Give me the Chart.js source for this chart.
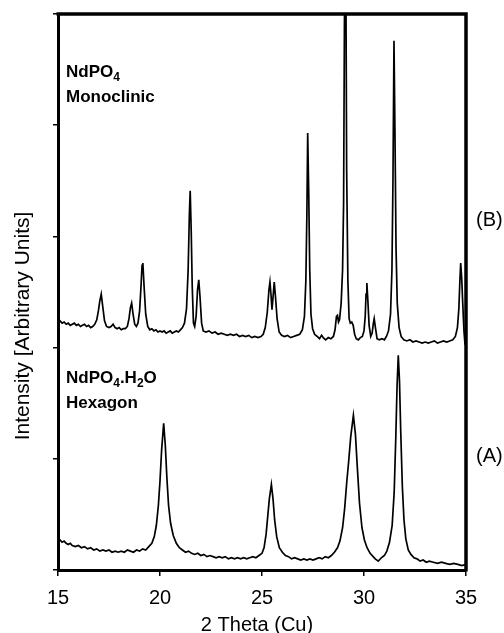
<!DOCTYPE html>
<html>
<head>
    <meta charset="UTF-8">
    <title>NdPO4 XRD patterns</title>
    <script src="https://cdn.jsdelivr.net/npm/chart.js@4"></script>
    <style>
        html, body { margin: 0; padding: 0; background: #fff; }
        #wrap { width: 504px; height: 633px; position: relative; }
    </style>
</head>
<body>
<div id="wrap"><canvas id="xrdChart"></canvas></div>

<script>
    // (A) NdPO4.H2O hexagonal - 2 theta (deg) and intensity (arbitrary, offset 0)
    var thetaA = [15.00, 15.10, 15.20, 15.30, 15.40, 15.50, 15.60, 15.70, 15.85, 16.00,
        16.15, 16.30, 16.45, 16.60, 16.75, 16.90, 17.05, 17.20, 17.35, 17.50,
        17.65, 17.80, 17.95, 18.10, 18.25, 18.40, 18.55, 18.70, 18.85, 19.00,
        19.15, 19.30, 19.45, 19.60, 19.72, 19.82, 19.92, 20.00, 20.08, 20.18,
        20.26, 20.34, 20.42, 20.52, 20.65, 20.80, 20.95, 21.10, 21.25, 21.40,
        21.55, 21.70, 21.85, 22.00, 22.15, 22.30, 22.45, 22.60, 22.75, 22.90,
        23.05, 23.20, 23.35, 23.50, 23.65, 23.80, 23.95, 24.10, 24.25, 24.40,
        24.55, 24.70, 24.85, 25.00, 25.10, 25.20, 25.28, 25.36, 25.46, 25.54,
        25.62, 25.72, 25.85, 26.00, 26.15, 26.30, 26.45, 26.60, 26.75, 26.90,
        27.05, 27.20, 27.35, 27.50, 27.65, 27.80, 27.95, 28.10, 28.25, 28.40,
        28.55, 28.70, 28.82, 28.95, 29.05, 29.15, 29.25, 29.35, 29.48, 29.58,
        29.68, 29.78, 29.90, 30.02, 30.15, 30.30, 30.45, 30.55, 30.70, 30.85,
        31.00, 31.12, 31.25, 31.38, 31.48, 31.56, 31.62, 31.68, 31.74, 31.80,
        31.88, 31.96, 32.05, 32.17, 32.30, 32.45, 32.60, 32.75, 32.90, 33.05,
        33.20, 33.40, 33.60, 33.80, 34.00, 34.20, 34.40, 34.60, 34.80, 35.00];
    var countsA = [0.28, 0.27, 0.25, 0.26, 0.24, 0.23, 0.24, 0.22, 0.21, 0.22,
        0.20, 0.21, 0.19, 0.20, 0.18, 0.19, 0.17, 0.18, 0.17, 0.18,
        0.16, 0.17, 0.16, 0.17, 0.16, 0.18, 0.17, 0.16, 0.18, 0.17,
        0.19, 0.18, 0.21, 0.24, 0.30, 0.40, 0.58, 0.80, 1.08, 1.32,
        1.12, 0.82, 0.58, 0.42, 0.31, 0.24, 0.20, 0.18, 0.16, 0.17,
        0.15, 0.14, 0.15, 0.13, 0.14, 0.12, 0.13, 0.12, 0.11, 0.12,
        0.11, 0.12, 0.10, 0.11, 0.10, 0.11, 0.10, 0.11, 0.10, 0.11,
        0.12, 0.11, 0.13, 0.15, 0.20, 0.32, 0.48, 0.64, 0.77, 0.64,
        0.45, 0.30, 0.20, 0.16, 0.13, 0.12, 0.10, 0.11, 0.10, 0.09,
        0.10, 0.09, 0.10, 0.09, 0.10, 0.11, 0.10, 0.12, 0.11, 0.13,
        0.16, 0.20, 0.26, 0.38, 0.55, 0.78, 0.98, 1.20, 1.39, 1.22,
        0.90, 0.60, 0.38, 0.27, 0.20, 0.15, 0.12, 0.10, 0.08, 0.11,
        0.13, 0.17, 0.25, 0.40, 0.70, 1.20, 1.65, 1.93, 1.70, 1.25,
        0.75, 0.45, 0.28, 0.18, 0.14, 0.11, 0.10, 0.08, 0.09, 0.07,
        0.08, 0.07, 0.06, 0.07, 0.06, 0.05, 0.06, 0.05, 0.04, 0.05];

    // (B) NdPO4 monoclinic - stacked above (A)
    var thetaB = [15.00, 15.10, 15.20, 15.30, 15.40, 15.50, 15.60, 15.70, 15.80, 15.90,
        16.00, 16.10, 16.20, 16.30, 16.40, 16.50, 16.60, 16.70, 16.80, 16.90,
        16.98, 17.05, 17.12, 17.20, 17.28, 17.38, 17.50, 17.60, 17.70, 17.80,
        17.90, 18.00, 18.10, 18.20, 18.30, 18.40, 18.48, 18.55, 18.61, 18.68,
        18.76, 18.84, 18.92, 19.00, 19.06, 19.12, 19.16, 19.22, 19.30, 19.40,
        19.50, 19.60, 19.70, 19.80, 19.90, 20.00, 20.10, 20.20, 20.30, 20.40,
        20.50, 20.60, 20.70, 20.80, 20.90, 21.00, 21.10, 21.20, 21.30, 21.38,
        21.44, 21.48, 21.53, 21.58, 21.64, 21.70, 21.77, 21.84, 21.90, 21.96,
        22.04, 22.12, 22.25, 22.40, 22.55, 22.70, 22.85, 23.00, 23.15, 23.30,
        23.45, 23.60, 23.75, 23.90, 24.05, 24.20, 24.35, 24.50, 24.65, 24.80,
        24.95, 25.06, 25.16, 25.26, 25.34, 25.39, 25.44, 25.49, 25.54, 25.60,
        25.66, 25.74, 25.84, 25.96, 26.10, 26.25, 26.40, 26.55, 26.70, 26.85,
        26.98, 27.08, 27.15, 27.20, 27.24, 27.29, 27.34, 27.40, 27.48, 27.58,
        27.70, 27.82, 27.92, 28.00, 28.12, 28.25, 28.38, 28.50, 28.58, 28.65,
        28.70, 28.75, 28.80, 28.88, 28.95, 29.00, 29.04, 29.08, 29.11, 29.15,
        29.21, 29.27, 29.33, 29.40, 29.47, 29.54, 29.62, 29.72, 29.82, 29.92,
        30.00, 30.06, 30.10, 30.14, 30.19, 30.25, 30.33, 30.40, 30.46, 30.50,
        30.56, 30.64, 30.75, 30.88, 31.00, 31.10, 31.20, 31.30, 31.37, 31.42,
        31.47, 31.52, 31.57, 31.63, 31.72, 31.82, 31.95, 32.10, 32.25, 32.40,
        32.55, 32.70, 32.85, 33.00, 33.15, 33.30, 33.45, 33.60, 33.75, 33.90,
        34.05, 34.20, 34.35, 34.48, 34.58, 34.65, 34.70, 34.74, 34.79, 34.84,
        34.90, 34.95, 35.00];
    var countsB = [2.23, 2.24, 2.22, 2.23, 2.21, 2.22, 2.20, 2.21, 2.22, 2.20,
        2.21, 2.19, 2.20, 2.21, 2.19, 2.20, 2.18, 2.19, 2.21, 2.25,
        2.33, 2.42, 2.48, 2.36, 2.24, 2.19, 2.18, 2.19, 2.21, 2.18,
        2.17, 2.18, 2.16, 2.17, 2.17, 2.19, 2.26, 2.36, 2.40, 2.30,
        2.21, 2.19, 2.22, 2.33, 2.52, 2.74, 2.76, 2.55, 2.30, 2.19,
        2.16, 2.17, 2.15, 2.16, 2.14, 2.15, 2.14, 2.15, 2.13, 2.14,
        2.15, 2.13, 2.14, 2.15, 2.14, 2.16, 2.18, 2.22, 2.35, 2.70,
        3.20, 3.41, 3.05, 2.55, 2.22, 2.19, 2.28, 2.52, 2.61, 2.46,
        2.22, 2.15, 2.14, 2.15, 2.13, 2.14, 2.12, 2.13, 2.12, 2.11,
        2.12, 2.11, 2.12, 2.10, 2.11, 2.10, 2.11, 2.09, 2.10, 2.09,
        2.10, 2.12, 2.18, 2.32, 2.52, 2.59, 2.48, 2.34, 2.45, 2.59,
        2.46, 2.26, 2.14, 2.11, 2.10, 2.11, 2.09, 2.10, 2.11, 2.12,
        2.16, 2.28, 2.60, 3.20, 3.93, 3.40, 2.70, 2.30, 2.17, 2.12,
        2.10, 2.08, 2.11, 2.09, 2.07, 2.09, 2.08, 2.10, 2.16, 2.28,
        2.29, 2.23, 2.25, 2.40, 2.70, 3.30, 4.90, 5.80, 5.40, 3.60,
        2.60, 2.26, 2.22, 2.23, 2.20, 2.12, 2.08, 2.07, 2.09, 2.10,
        2.15, 2.28, 2.48, 2.58, 2.42, 2.20, 2.10, 2.13, 2.22, 2.26,
        2.18, 2.08, 2.07, 2.08, 2.07, 2.10, 2.15, 2.30, 2.70, 3.50,
        4.76, 3.90, 2.90, 2.40, 2.18, 2.10, 2.07, 2.06, 2.07, 2.05,
        2.06, 2.05, 2.04, 2.05, 2.04, 2.05, 2.06, 2.04, 2.05, 2.06,
        2.05, 2.06, 2.07, 2.10, 2.18, 2.35, 2.60, 2.76, 2.62, 2.40,
        2.15, 2.03, 2.02];

    var xTicks = [15, 20, 25, 30, 35];
    var yTicks = [0, 1, 2, 3, 4, 5];

    var FONT = '"Liberation Sans", Arial, Helvetica, sans-serif';

    function toPoints(xs, ys) {
        return xs.map(function (x, i) { return { x: x, y: ys[i] }; });
    }

    // draws text pieces, pieces flagged as subscript get smaller and lower
    function drawRich(ctx, parts, x, y, size) {
        parts.forEach(function (p) {
            var sub = p[1];
            ctx.font = 'bold ' + (sub ? Math.round(size * 0.7) : size) + 'px ' + FONT;
            ctx.fillText(p[0], x, sub ? y + size * 0.22 : y);
            x += ctx.measureText(p[0]).width;
        });
    }

    var framePlugin = {
        id: 'frameAndText',
        afterDraw: function (chart) {
            var ctx = chart.ctx;
            var area = chart.chartArea;
            ctx.save();

            // top and right side of the box
            ctx.strokeStyle = '#000';
            ctx.lineWidth = 3.5;
            ctx.beginPath();
            ctx.moveTo(area.left - 1.5, area.top);
            ctx.lineTo(area.right, area.top);
            ctx.lineTo(area.right, area.bottom + 1.5);
            ctx.stroke();

            ctx.fillStyle = '#000';
            ctx.textBaseline = 'alphabetic';
            ctx.textAlign = 'left';

            drawRich(ctx, [['NdPO', 0], ['4', 1]], 66, 77, 17);
            drawRich(ctx, [['Monoclinic', 0]], 66, 101.5, 17);
            drawRich(ctx, [['NdPO', 0], ['4', 1], ['.H', 0], ['2', 1], ['O', 0]], 66, 383, 17);
            drawRich(ctx, [['Hexagon', 0]], 66, 407.5, 17);

            ctx.font = '20px ' + FONT;
            ctx.fillText('(B)', 476, 226);
            ctx.fillText('(A)', 476, 462);

            ctx.textAlign = 'center';
            ctx.fillText('2 Theta (Cu)', 257, 631);

            ctx.font = '21px ' + FONT;
            ctx.translate(29, 326);
            ctx.rotate(-Math.PI / 2);
            ctx.fillText('Intensity [Arbitrary Units]', 0, 0);
            ctx.restore();
        }
    };

    var chartElement = document.getElementById('xrdChart').getContext('2d');
    var xrdChart = new Chart(chartElement, {
        type: 'scatter',
        data: {
            datasets: [{
                label: 'NdPO4.H2O',
                data: toPoints(thetaA, countsA),
                showLine: true,
                borderColor: '#000',
                borderWidth: 1.7,
                pointRadius: 0,
                tension: 0
            }, {
                label: 'NdPO4',
                data: toPoints(thetaB, countsB),
                showLine: true,
                borderColor: '#000',
                borderWidth: 1.7,
                pointRadius: 0,
                tension: 0
            }]
        },
        options: {
            responsive: true,
            maintainAspectRatio: false,
            animation: false,
            events: [],
            layout: { padding: { left: 53, right: 38, top: 14, bottom: 0 } },
            plugins: {
                legend: { display: false },
                tooltip: { enabled: false }
            },
            scales: {
                x: {
                    type: 'linear',
                    min: 15,
                    max: 35,
                    afterBuildTicks: function (scale) {
                        scale.ticks = xTicks.map(function (v) { return { value: v }; });
                    },
                    afterFit: function (scale) { scale.height = 63; },
                    ticks: {
                        color: '#000',
                        padding: 10,
                        maxRotation: 0,
                        font: { family: FONT, size: 20 }
                    },
                    grid: {
                        drawOnChartArea: false,
                        drawTicks: true,
                        tickLength: 6,
                        color: '#000',
                        lineWidth: 1.5
                    },
                    border: { display: true, color: '#000', width: 3 }
                },
                y: {
                    min: 0,
                    max: 5,
                    afterBuildTicks: function (scale) {
                        scale.ticks = yTicks.map(function (v) { return { value: v }; });
                    },
                    afterFit: function (scale) { scale.width = 5; },
                    ticks: { display: false },
                    grid: {
                        drawOnChartArea: false,
                        drawTicks: true,
                        tickLength: 5,
                        color: '#000',
                        lineWidth: 1.5
                    },
                    border: { display: true, color: '#000', width: 3 }
                }
            }
        },
        plugins: [framePlugin]
    });
</script>
</body>
</html>
